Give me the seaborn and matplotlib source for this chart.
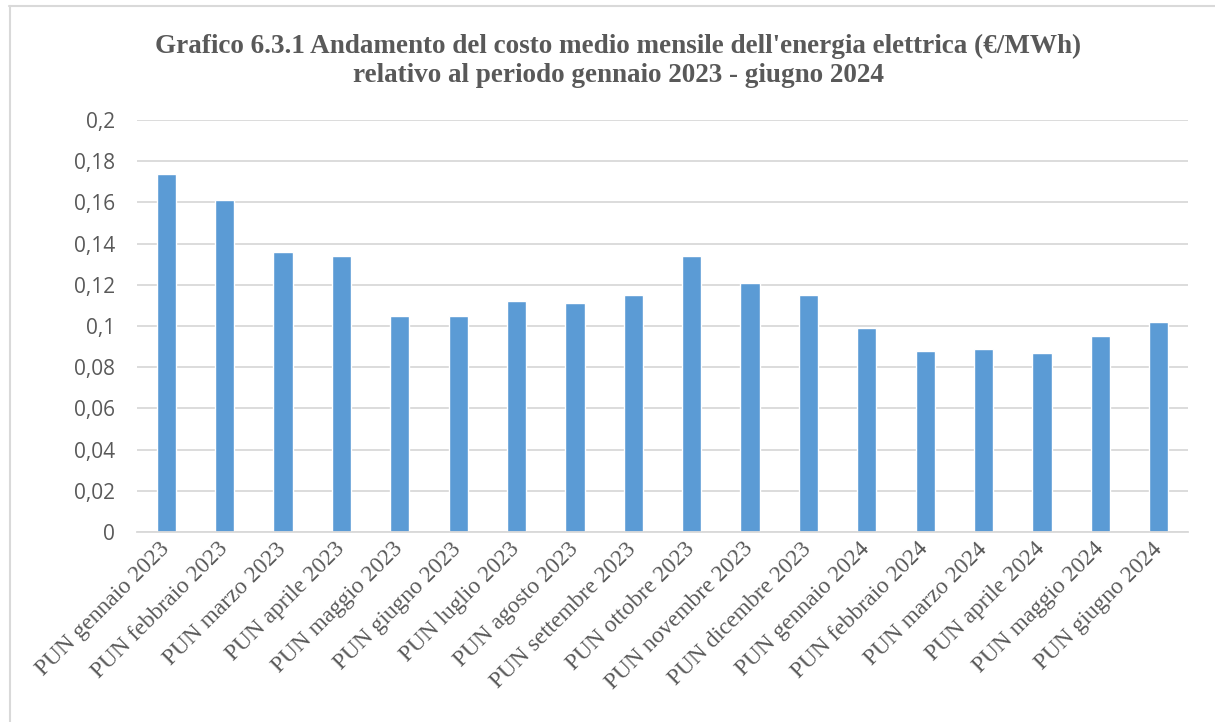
import matplotlib
matplotlib.use("Agg")
import matplotlib.pyplot as plt
import seaborn as sns
import pandas as pd
from matplotlib.ticker import FuncFormatter
from matplotlib.lines import Line2D

categories = ["PUN gennaio 2023", "PUN febbraio 2023", "PUN marzo 2023", "PUN aprile 2023",
              "PUN maggio 2023", "PUN giugno 2023", "PUN luglio 2023", "PUN agosto 2023",
              "PUN settembre 2023", "PUN ottobre 2023", "PUN novembre 2023", "PUN dicembre 2023",
              "PUN gennaio 2024", "PUN febbraio 2024", "PUN marzo 2024", "PUN aprile 2024",
              "PUN maggio 2024", "PUN giugno 2024"]
values = [0.174, 0.161, 0.136, 0.134, 0.105, 0.105, 0.112, 0.111, 0.115,
          0.134, 0.121, 0.115, 0.099, 0.088, 0.089, 0.087, 0.095, 0.102]
yticks = [0, 0.02, 0.04, 0.06, 0.08, 0.1, 0.12, 0.14, 0.16, 0.18, 0.2]
title = "Grafico 6.3.1 Andamento del costo medio mensile dell'energia elettrica (€/MWh)\nrelativo al periodo gennaio 2023 - giugno 2024"

df = pd.DataFrame({"cat": categories, "val": values})

sns.set_theme(style="white")
W, H = 1215, 722
fig = plt.figure(figsize=(W/100, H/100), dpi=100)
ax = fig.add_axes([137/W, 1 - 532/H, (1188-137)/W, (532-120)/H])

sns.barplot(data=df, x="cat", y="val", color="#5B9BD5", saturation=1, width=0.33, ax=ax)

ax.set_ylim(0, 0.2)
ax.set_xlim(-0.5, len(categories) - 0.5)
ax.set_yticks(yticks)
def fmt(v, pos):
    s = f"{v:.2f}".rstrip("0").rstrip(".")
    return s.replace(".", ",")
ax.yaxis.set_major_formatter(FuncFormatter(fmt))
ax.yaxis.grid(True, color="#D9D9D9", linewidth=1.3)
ax.set_axisbelow(True)
for s in ["top", "right", "left"]:
    ax.spines[s].set_visible(False)
ax.spines["bottom"].set_color("#D9D9D9")
ax.spines["bottom"].set_linewidth(1.3)
ax.tick_params(axis="both", length=0)
ax.tick_params(axis="y", pad=16)
ax.set_xlabel("")
ax.set_ylabel("")
for lab in ax.get_yticklabels():
    lab.set_family(["Open Sans", "DejaVu Sans"])
    lab.set_fontsize(15)
    lab.set_color("#595959")
ax.set_xticks(range(len(categories)))
ax.set_xticklabels(categories, rotation=45, ha="right", va="center", rotation_mode="anchor",
                   family="Liberation Serif", fontsize=16.8, color="#595959")
ax.tick_params(axis="x", pad=10)

fig.text(0.5 + 11/W, 1 - 61/H, title, ha="center", va="center", family="Liberation Serif",
         fontsize=19.5, fontweight="bold", color="#595959", linespacing=1.2)

fig.add_artist(Line2D([9/W, 1], [1 - 6/H, 1 - 6/H], transform=fig.transFigure,
                      color="#D9D9D9", linewidth=1.5))
fig.add_artist(Line2D([9.5/W, 9.5/W], [0, 1 - 6/H], transform=fig.transFigure,
                      color="#D9D9D9", linewidth=1.5))

fig.savefig("out.png", dpi=100)
